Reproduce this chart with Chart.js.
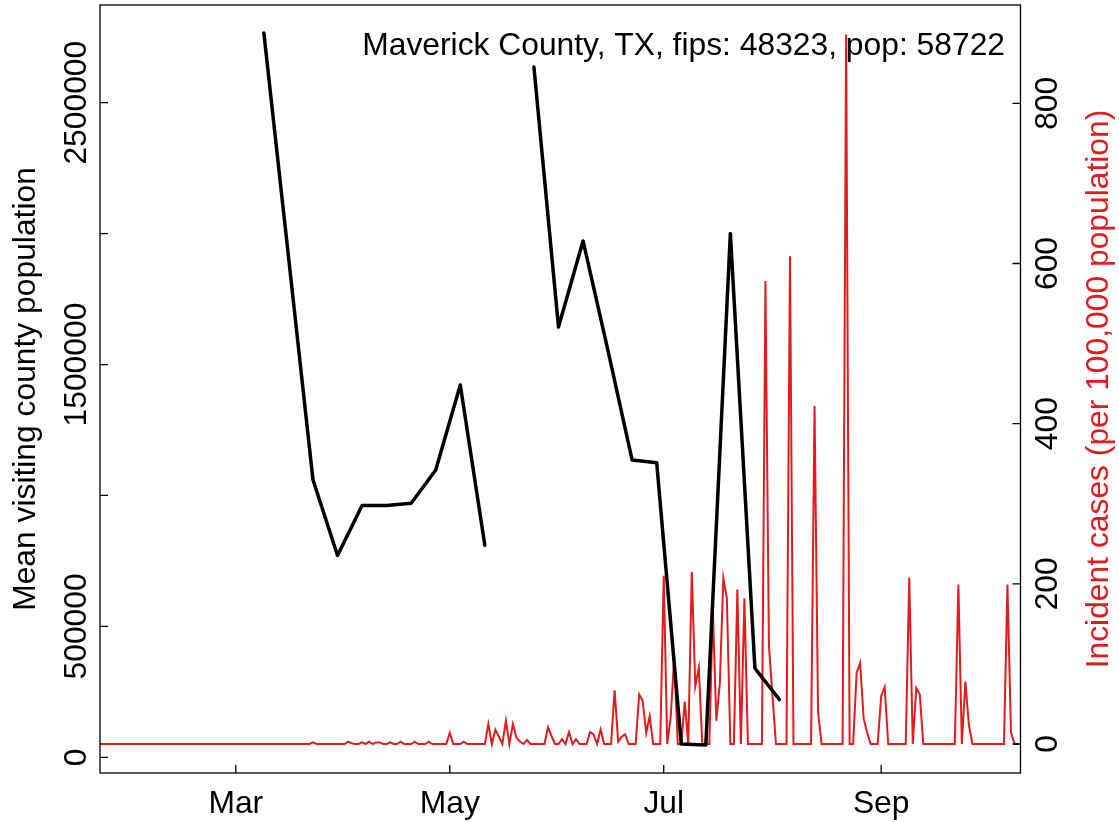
<!DOCTYPE html>
<html>
<head>
<meta charset="utf-8">
<script src="https://cdn.jsdelivr.net/npm/chart.js@4.4.1/dist/chart.umd.min.js"></script>
<style>
  html, body { margin: 0; padding: 0; background: #fff; }
  canvas { display: block; }
</style>
</head>
<body>
<canvas id="graphique" width="1119" height="822"></canvas>
<script>
/** Textes du graphique */
const titre = 'Maverick County, TX, fips: 48323, pop: 58722';
const labelGauche = 'Mean visiting county population';
const labelDroite = 'Incident cases (per 100,000 population)';

/** Axe x : jours depuis le 1er janvier 2020 */
const moisTicks = [60, 121, 182, 244];
const moisLabels = ['Mar', 'May', 'Jul', 'Sep'];

/** Axe de gauche */
const ticksGauche = [0, 500000, 1000000, 1500000, 2000000, 2500000];
const labelsGauche = ['0', '500000', '', '1500000', '', '2500000'];

/** Axe de droite */
const ticksDroite = [0, 200, 400, 600, 800];

/** Population moyenne visitant le comté, une valeur par semaine (null = trou) */
const semaines = [68, 75, 82, 89, 96, 103, 110, 117, 124, 131, 138,
  145, 152, 159, 166, 173, 180, 187, 194, 201, 208, 215];
const visiteurs = [2766000, 1914000, 1060000, 771000, 962000, 962000, 970000, 1097000, 1422000, 810000, null,
  2636000, 1643000, 1972000, 1560000, 1135000, 1125000, 51000, 47000, 2000000, 340000, 220000];

/** Cas incidents pour 100 000 habitants, un par jour à partir du 22 janvier */
const premierJourCas = 21;
const cas = [
  // 21 -> 81
  0,
  0, 0, 0, 0, 0, 0, 0, 0, 0, 0, 0, 0, 0, 0, 0, 0, 0, 0, 0, 0,
  0, 0, 0, 0, 0, 0, 0, 0, 0, 0, 0, 0, 0, 0, 0, 0, 0, 0, 0, 0,
  0, 0, 0, 0, 0, 0, 0, 0, 0, 0, 0, 0, 0, 0, 0, 0, 0, 0, 0, 0,
  // 82 -> 121
  2, 0, 0, 0, 0, 0, 0, 0, 0, 0, 3, 1, 0, 0, 2, 0, 3, 0, 2, 2,
  0, 0, 2, 0, 0, 3, 0, 0, 0, 3, 0, 0, 0, 3, 0, 0, 0, 0, 0, 14,
  // 122 -> 161
  0, 0, 0, 3, 0, 0, 0, 0, 0, 0, 25, 0, 18, 9, 0, 29, 0, 25, 8, 3,
  0, 5, 0, 0, 0, 0, 0, 21, 10, 0, 0, 6, 0, 15, 0, 6, 0, 0, 0, 15,
  // 162 -> 201
  12, 0, 18, 0, 0, 0, 67, 3, 9, 12, 0, 0, 0, 62, 54, 14, 35, 0, 0, 0,
  210, 0, 34, 109, 0, 0, 53, 0, 215, 72, 95, 0, 0, 0, 168, 29, 76, 207, 182, 0,
  // 202 -> 241
  0, 193, 0, 182, 0, 0, 0, 0, 0, 578, 122, 61, 0, 0, 0, 0, 609, 0, 0, 0,
  0, 0, 0, 422, 40, 0, 0, 0, 0, 0, 0, 0, 886, 0, 0, 89, 101, 32, 14, 0,
  // 242 -> 286
  0, 0, 60, 71, 0, 0, 0, 0, 0, 0, 208, 0, 70, 62, 0, 0, 0, 0, 0, 0,
  0, 0, 0, 0, 199, 0, 78, 24, 0, 0, 0, 0, 0, 0, 0, 0, 0, 0, 199, 15,
  0, 0, 0, 0, 0
];

const police = '31.8px "Liberation Sans", Arial, sans-serif';
const rouge = '#E41A1C';

/** Cadre, ticks vers l'intérieur et textes tournés, comme en R */
const axesR = {
  id: 'axesR',
  afterDraw(chart) {
    const {ctx, chartArea: ca, scales} = chart;
    ctx.save();
    ctx.strokeStyle = '#000';
    ctx.lineWidth = 1.3;
    ctx.strokeRect(ca.left, ca.top, ca.right - ca.left, ca.bottom - ca.top);

    ctx.beginPath();
    moisTicks.forEach(j => {
      const x = scales.x.getPixelForValue(j);
      ctx.moveTo(x, ca.bottom);
      ctx.lineTo(x, ca.bottom - 8);
    });
    ticksGauche.forEach(v => {
      const y = scales.yG.getPixelForValue(v);
      ctx.moveTo(ca.left, y);
      ctx.lineTo(ca.left + 8, y);
    });
    ticksDroite.forEach(v => {
      const y = scales.yD.getPixelForValue(v);
      ctx.moveTo(ca.right, y);
      ctx.lineTo(ca.right - 8, y);
    });
    ctx.stroke();

    ctx.font = police;
    ctx.fillStyle = '#000';
    ctx.textAlign = 'center';
    ctx.textBaseline = 'alphabetic';
    moisLabels.forEach((t, i) => {
      ctx.fillText(t, scales.x.getPixelForValue(moisTicks[i]), 813);
    });

    const vertical = (txt, x, y, couleur) => {
      ctx.save();
      ctx.translate(x, y);
      ctx.rotate(-Math.PI / 2);
      ctx.fillStyle = couleur;
      ctx.fillText(txt, 0, 0);
      ctx.restore();
    };
    labelsGauche.forEach((t, i) => {
      if (t) vertical(t, 85.5, scales.yG.getPixelForValue(ticksGauche[i]), '#000');
    });
    ticksDroite.forEach(v => {
      vertical(String(v), 1057, scales.yD.getPixelForValue(v), '#000');
    });
    const milieu = (ca.top + ca.bottom) / 2;
    vertical(labelGauche, 35, milieu, '#000');
    vertical(labelDroite, 1108, milieu, rouge);

    ctx.textAlign = 'right';
    ctx.fillText(titre, 1005, 55);
    ctx.restore();
  }
};

const ctx = document.getElementById('graphique').getContext('2d');
new Chart(ctx, {
  type: 'line',
  data: {
    datasets: [
      {
        label: 'visiteurs',
        data: semaines.map((j, i) => ({x: j, y: visiteurs[i]})),
        yAxisID: 'yG',
        borderColor: '#000',
        borderWidth: 3.5,
        borderJoinStyle: 'round',
        borderCapStyle: 'round',
        pointRadius: 0,
        spanGaps: false,
        clip: 0
      },
      {
        label: 'cas',
        data: cas.map((v, i) => ({x: premierJourCas + i, y: v})),
        yAxisID: 'yD',
        borderColor: rouge,
        borderWidth: 2,
        pointRadius: 0,
        clip: 0
      }
    ]
  },
  options: {
    responsive: false,
    animation: false,
    devicePixelRatio: 1,
    layout: { padding: { left: 100, right: 98.5, top: 5, bottom: 49 } },
    plugins: { legend: { display: false }, tooltip: { enabled: false } },
    scales: {
      x: { type: 'linear', display: false, min: 21.28, max: 283.72 },
      yG: { type: 'linear', display: false, min: -59960, max: 2873150 },
      yD: { type: 'linear', display: false, position: 'right', min: -36.2, max: 922.8 }
    }
  },
  plugins: [axesR]
});
</script>
</body>
</html>
